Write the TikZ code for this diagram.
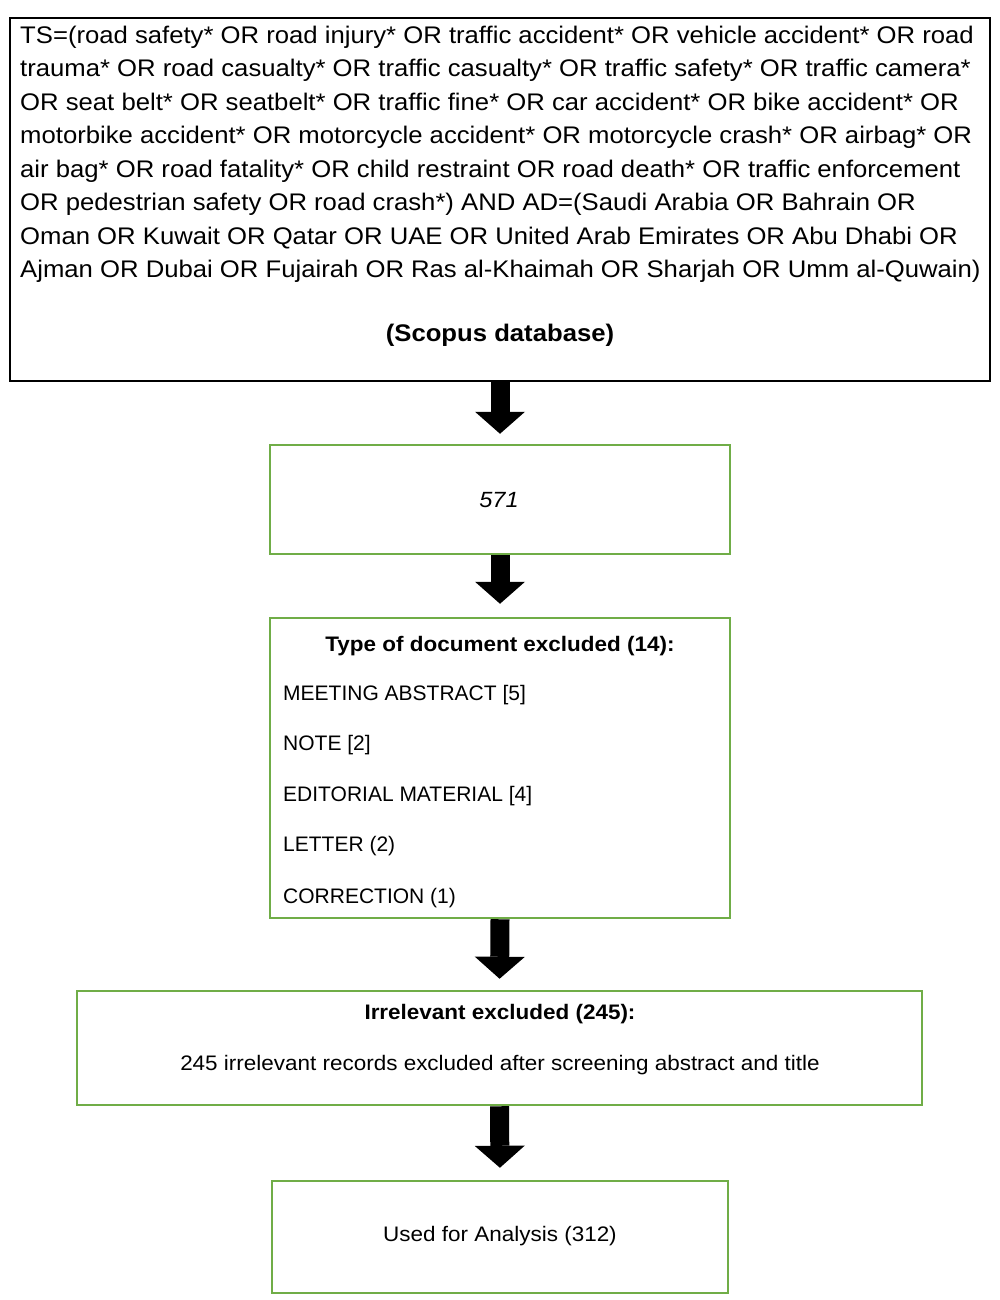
\documentclass[tikz,border=0pt]{standalone}
\usepackage{fontspec}
\setmainfont{Liberation Sans}[FakeStretch=1.07]
\newfontfamily\capsfont{Liberation Sans}
\usetikzlibrary{arrows.meta}
\definecolor{boxgreen}{RGB}{112,173,71}
\begin{document}
\begin{tikzpicture}[x=1pt,y=-1pt,
  greenbox/.style={draw=boxgreen,line width=2.5pt,inner sep=0pt},
  bigtext/.style={font=\fontsize{24}{33.5}\selectfont,inner sep=0pt},
  smalltext/.style={font=\fontsize{21}{25}\selectfont,inner sep=0pt},
  itemtext/.style={font=\fontsize{21}{25}\selectfont\capsfont,inner sep=0pt,anchor=base west},
  blockarrow/.style={line width=19pt,
     -{Triangle[width=50pt,length=22pt,line width=0pt]}}]
\useasboundingbox (0,0) rectangle (1000,1300);

% top search box
\node[draw=black,line width=2pt,minimum width=980pt,minimum height=363pt,inner sep=0pt] (top) at (500,199.5) {};
\node[bigtext,anchor=base west,align=left] (query) at (20,277.7) {TS=(road safety* OR road injury* OR traffic accident* OR vehicle accident* OR road\\
trauma* OR road casualty* OR traffic casualty* OR traffic safety* OR traffic camera*\\
OR seat belt* OR seatbelt* OR traffic fine* OR car accident* OR bike accident* OR\\
motorbike accident* OR motorcycle accident* OR motorcycle crash* OR airbag* OR\\
air bag* OR road fatality* OR child restraint OR road death* OR traffic enforcement\\
OR pedestrian safety OR road crash*) AND AD=(Saudi Arabia OR Bahrain OR\\
Oman OR Kuwait OR Qatar OR UAE OR United Arab Emirates OR Abu Dhabi OR\\
Ajman OR Dubai OR Fujairah OR Ras al-Khaimah OR Sharjah OR Umm al-Quwain)};
\node[bigtext,anchor=base,font=\fontsize{24}{33.5}\selectfont\bfseries] (scopus) at (500,341.7) {(Scopus database)};

% 571 box
\node[greenbox,minimum width=460pt,minimum height=109pt] (n571) at (500,499.5) {};
\node[smalltext,anchor=base,font=\fontsize{22}{25}\selectfont\itshape] (t571) at (499,507.7) {571};

% type of document box
\node[greenbox,minimum width=460pt,minimum height=300pt] (types) at (500,768) {};
\node[smalltext,anchor=base,font=\fontsize{21}{25}\selectfont\bfseries] (typetitle) at (500,651.7) {Type of document excluded (14):};
\node[itemtext] (t1) at (283,700.5) {MEETING ABSTRACT [5]};
\node[itemtext] (t2) at (283,750.7) {NOTE [2]};
\node[itemtext] (t3) at (283,801.7) {EDITORIAL MATERIAL [4]};
\node[itemtext] (t4) at (283,851.7) {LETTER (2)};
\node[itemtext] (t5) at (283,903) {CORRECTION (1)};

% irrelevant box
\node[greenbox,minimum width=845pt,minimum height=114pt] (irr) at (499.5,1048) {};
\node[smalltext,anchor=base,font=\fontsize{21}{25}\selectfont\bfseries] (irrtitle) at (500,1019.6) {Irrelevant excluded (245):};
\node[smalltext,anchor=base] (irrbody) at (500,1070.2) {245 irrelevant records excluded after screening abstract and title};

% final box
\node[greenbox,minimum width=456pt,minimum height=112pt] (final) at (500,1237) {};
\node[smalltext,anchor=base] (finaltext) at (500,1241.5) {Used for Analysis (312)};

% arrows
\draw[blockarrow,shorten >=10pt] (top.south) -- (n571.north);
\draw[blockarrow,shorten >=13pt] (n571.south) -- (types.north);
\draw[blockarrow,shorten >=11pt] (types.south) -- (irr.north);
\draw[blockarrow,shorten >=12pt] (irr.south) -- (final.north);
\end{tikzpicture}
\end{document}
